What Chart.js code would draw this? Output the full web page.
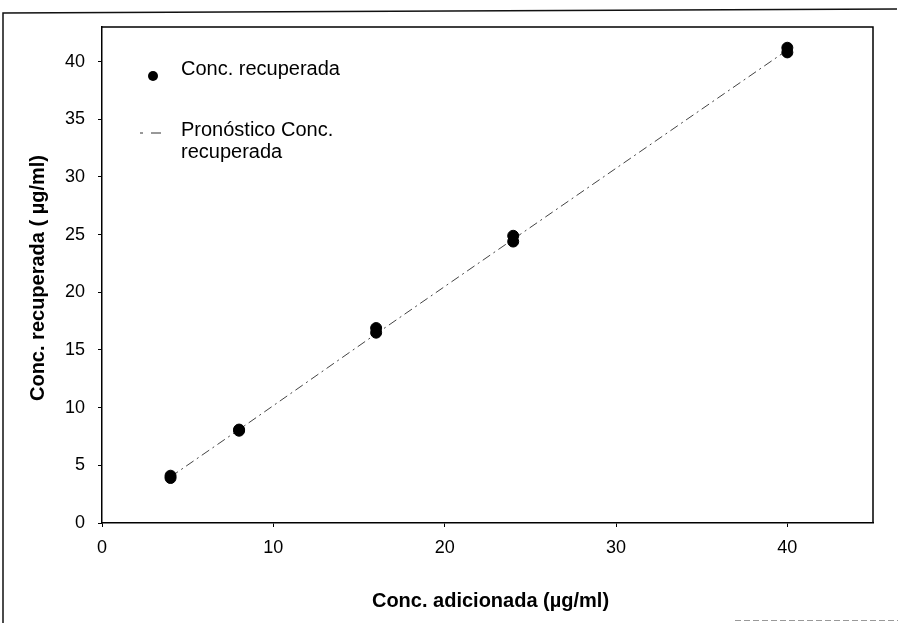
<!DOCTYPE html>
<html>
<head>
<meta charset="utf-8">
<script src="https://cdn.jsdelivr.net/npm/chart.js@4.4.1/dist/chart.umd.min.js"></script>
<style>
  html, body { margin: 0; padding: 0; background: #fff; }
  #wrap { width: 900px; height: 623px; position: relative; }
</style>
</head>
<body>
<div id="wrap"><canvas id="c" width="900" height="623"></canvas></div>
<script>
// Added concentration (x) and recovered concentration (y), µg/ml
const addedConc = [4, 4, 8, 8, 16, 16, 24, 24, 40, 40];
const recoveredConc = [3.9, 4.1, 8.0, 8.1, 16.5, 16.9, 24.4, 24.9, 40.8, 41.2];

// Predicted recovered concentration from the fitted line
const predictedX = [4, 8, 16, 24, 40];
const predictedY = [4.0, 8.1, 16.4, 24.6, 41.0];

const xTitle = 'Conc. adicionada (\u00b5g/ml)';
const yTitle = 'Conc. recuperada ( \u00b5g/ml)';
const legendLabels = ['Conc. recuperada', ['Pron\u00f3stico Conc.', 'recuperada']];

const FONT = '"Liberation Sans", Arial, sans-serif';
const LINE_DASH = [9, 4, 2, 4];

const scatterPoints = addedConc.map((x, i) => ({ x, y: recoveredConc[i] }));
const predictedPoints = predictedX.map((x, i) => ({ x, y: predictedY[i] }));

// Frame, inner plot box, axis titles and in-plot legend
const decorations = {
  id: 'decorations',
  beforeDraw(chart) {
    const ctx = chart.ctx;
    ctx.save();
    ctx.fillStyle = '#fff';
    ctx.fillRect(0, 0, chart.width, chart.height);
    // outer chart frame
    ctx.strokeStyle = '#111';
    ctx.lineWidth = 1.5;
    ctx.beginPath();
    ctx.moveTo(3, 623);
    ctx.lineTo(3, 13);
    ctx.lineTo(897, 9);
    ctx.stroke();
    ctx.strokeStyle = '#999';
    ctx.lineWidth = 1;
    ctx.setLineDash([6, 3]);
    ctx.beginPath();
    ctx.moveTo(735, 620.5);
    ctx.lineTo(898, 620.5);
    ctx.stroke();
    ctx.restore();
  },
  afterDraw(chart) {
    const { ctx, chartArea: a } = chart;
    ctx.save();
    // top and right edges of the plot box
    ctx.strokeStyle = '#000';
    ctx.lineWidth = 1.5;
    ctx.beginPath();
    ctx.moveTo(a.left, a.top);
    ctx.lineTo(a.right, a.top);
    ctx.lineTo(a.right, a.bottom);
    ctx.stroke();

    // axis titles
    ctx.fillStyle = '#000';
    ctx.font = 'bold 20px ' + FONT;
    ctx.textAlign = 'center';
    ctx.textBaseline = 'middle';
    ctx.fillText(xTitle, (a.left + a.right) / 2 + 3, 601);
    ctx.translate(38, (a.top + a.bottom) / 2 + 3);
    ctx.rotate(-Math.PI / 2);
    ctx.fillText(yTitle, 0, 0);
    ctx.setTransform(1, 0, 0, 1, 0, 0);

    // legend
    ctx.fillStyle = '#000';
    ctx.beginPath();
    ctx.arc(153, 76, 5, 0, Math.PI * 2);
    ctx.fill();
    ctx.strokeStyle = '#333';
    ctx.lineWidth = 1;
    ctx.setLineDash([3, 8, 10, 4]);
    ctx.beginPath();
    ctx.moveTo(140, 133);
    ctx.lineTo(164, 133);
    ctx.stroke();
    ctx.setLineDash([]);
    ctx.font = '20px ' + FONT;
    ctx.textAlign = 'left';
    ctx.fillText(legendLabels[0], 181, 69);
    ctx.fillText(legendLabels[1][0], 181, 130);
    ctx.fillText(legendLabels[1][1], 181, 152);
    ctx.restore();
  }
};

new Chart(document.getElementById('c'), {
  type: 'scatter',
  data: {
    datasets: [
      {
        label: legendLabels[0],
        data: scatterPoints,
        backgroundColor: '#000',
        borderColor: '#000',
        pointRadius: 5.5,
        pointHoverRadius: 5.5,
        order: 1
      },
      {
        label: legendLabels[1].join(' '),
        data: predictedPoints,
        type: 'line',
        showLine: true,
        borderColor: '#444',
        borderWidth: 1,
        borderDash: LINE_DASH,
        pointRadius: 0,
        fill: false,
        tension: 0,
        order: 2
      }
    ]
  },
  options: {
    responsive: false,
    animation: false,
    layout: { padding: { top: 27, right: 27, left: 0, bottom: 0 } },
    plugins: {
      legend: { display: false },
      tooltip: { enabled: false },
      title: { display: false }
    },
    scales: {
      x: {
        type: 'linear',
        min: 0,
        max: 45,
        ticks: {
          stepSize: 10,
          color: '#000',
          font: { family: FONT, size: 18 },
          padding: 10,
          maxRotation: 0
        },
        afterBuildTicks(scale) {
          scale.ticks = scale.ticks.filter(t => t.value % 10 === 0);
        },
        afterFit(scale) { scale.height = 100; },
        grid: { drawOnChartArea: false, drawTicks: true, tickLength: 4, color: '#000' },
        border: { display: true, color: '#000', width: 1.5 },
        title: { display: false }
      },
      y: {
        type: 'linear',
        min: 0,
        max: 43,
        ticks: {
          stepSize: 5,
          color: '#000',
          font: { family: FONT, size: 18 },
          padding: 13
        },
        afterBuildTicks(scale) {
          scale.ticks = scale.ticks.filter(t => t.value % 5 === 0);
        },
        afterFit(scale) { scale.width = 102; },
        grid: { drawOnChartArea: false, drawTicks: true, tickLength: 4, color: '#000' },
        border: { display: true, color: '#000', width: 1.5 },
        title: { display: false }
      }
    }
  },
  plugins: [decorations]
});
</script>
</body>
</html>
